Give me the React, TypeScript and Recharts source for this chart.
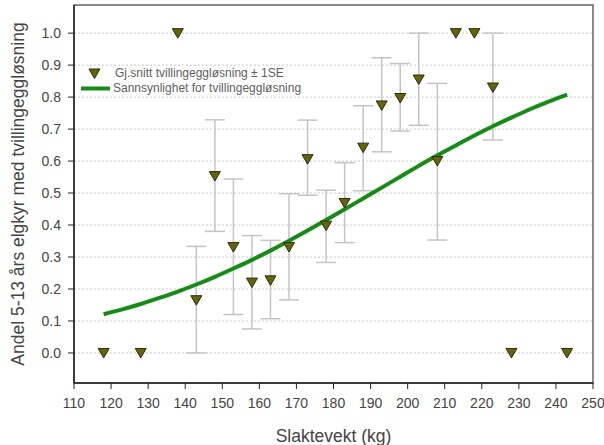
import {
  ComposedChart,
  Scatter,
  Line,
  XAxis,
  YAxis,
  CartesianGrid,
  ErrorBar,
  Legend,
  ReferenceArea,
} from 'recharts'

const FONT = 'Arial, "Liberation Sans", sans-serif'

// observed means per 5 kg weight class, with ±1SE limits
const weights = [118, 128, 138, 143, 148, 153, 158, 163, 168, 173, 178, 183, 188, 193, 198, 203, 208, 213, 218, 223, 228, 243]
const means = [0, 0, 1, 0.165, 0.553, 0.331, 0.22, 0.227, 0.331, 0.606, 0.398, 0.469, 0.642, 0.774, 0.797, 0.855, 0.6, 1, 1, 0.83, 0, 0]
const seLow = [null, null, null, 0, 0.38, 0.12, 0.075, 0.107, 0.166, 0.493, 0.283, 0.345, 0.507, 0.629, 0.694, 0.712, 0.353, null, null, 0.666, null, null]
const seHigh = [null, null, null, 0.333, 0.729, 0.544, 0.367, 0.352, 0.498, 0.728, 0.509, 0.595, 0.773, 0.923, 0.905, 1, 0.843, null, null, 1, null, null]

// fitted probability curve
const curveWeights = [118, 123, 128, 133, 138, 143, 148, 153, 158, 163, 168, 173, 178, 183, 188, 193, 198, 203, 208, 213, 218, 223, 228, 233, 238, 243]
const curveProb = [0.121, 0.136, 0.153, 0.172, 0.192, 0.214, 0.238, 0.264, 0.291, 0.32, 0.351, 0.383, 0.416, 0.449, 0.483, 0.517, 0.551, 0.585, 0.618, 0.649, 0.68, 0.709, 0.736, 0.762, 0.786, 0.808]

const xTicks = [110, 120, 130, 140, 150, 160, 170, 180, 190, 200, 210, 220, 230, 240, 250]
const yTicks = [0, 0.1, 0.2, 0.3, 0.4, 0.5, 0.6, 0.7, 0.8, 0.9, 1.0]

const LEGEND_MEAN = 'Gj.snitt tvillingeggløsning ± 1SE'
const LEGEND_CURVE = 'Sannsynlighet for tvillingeggløsning'

const points = weights.map((x, i) => ({ x, y: means[i] }))
const errPoints = weights
  .map((x, i) => ({ x, y: means[i], lo: seLow[i], hi: seHigh[i] }))
  .filter((d) => d.lo !== null && d.hi !== null)
  .map((d) => ({ x: d.x, y: d.y, err: [d.y - (d.lo as number), (d.hi as number) - d.y] }))
const curve = curveWeights.map((x, i) => ({ x, p: curveProb[i] }))

const MARKER_FILL = '#666408'
const GREEN = '#158c15'

function Triangle(props: any) {
  const { cx, cy } = props
  if (cx == null || cy == null) return <g />
  return (
    <path
      d={`M${cx - 5.5},${cy - 4.5} L${cx + 5.5},${cy - 4.5} L${cx},${cy + 5} Z`}
      fill={MARKER_FILL}
      stroke="#2b2b10"
      strokeWidth={1}
    />
  )
}

function LegendBox() {
  return (
    <div style={{ fontFamily: FONT, fontSize: 12, color: '#606060', lineHeight: '15px' }}>
      <div style={{ display: 'flex', alignItems: 'center' }}>
        <svg width={35} height={15}>
          <path d="M9,3 L20,3 L14.5,12.5 Z" fill={MARKER_FILL} stroke="#2b2b10" strokeWidth={1} />
        </svg>
        <span>{LEGEND_MEAN}</span>
      </div>
      <div style={{ display: 'flex', alignItems: 'center' }}>
        <svg width={33} height={15}>
          <line x1={1} y1={7.5} x2={30} y2={7.5} stroke={GREEN} strokeWidth={4} />
        </svg>
        <span>{LEGEND_CURVE}</span>
      </div>
    </div>
  )
}

export default function App() {
  return (
    <div style={{ position: 'absolute', left: 0, top: 0, background: '#fff' }}>
      <ComposedChart width={604} height={445} margin={{ top: 5, right: 11, bottom: 0, left: 14 }}>
        <ReferenceArea x1={110} x2={250} y1={-0.094} y2={1.088} fill="none" stroke="#666" strokeWidth={1.5} />
        <CartesianGrid vertical={false} stroke="#c8c8c8" strokeDasharray="2 2" />
        <XAxis
          dataKey="x"
          type="number"
          domain={[110, 250]}
          ticks={xTicks}
          allowDataOverflow
          height={62}
          tickSize={6}
          tickMargin={9}
          tick={{ fontSize: 14, fill: '#444', fontFamily: FONT }}
          axisLine={{ stroke: '#222', strokeWidth: 1.5 }}
          tickLine={{ stroke: '#222' }}
          label={{ value: 'Slaktevekt (kg)', position: 'insideBottom', offset: 3, style: { fontSize: 17.5, fill: '#444', fontFamily: FONT } }}
        />
        <YAxis
          type="number"
          domain={[-0.094, 1.088]}
          ticks={yTicks}
          allowDataOverflow
          tickFormatter={(v: number) => v.toFixed(1)}
          width={60}
          tickSize={6}
          tickMargin={7}
          tick={{ fontSize: 14, fill: '#444', fontFamily: FONT }}
          axisLine={{ stroke: '#222', strokeWidth: 1.5 }}
          tickLine={{ stroke: '#222' }}
          label={{
            value: 'Andel 5-13 års elgkyr med tvillingeggløsning',
            angle: -90,
            position: 'insideLeft',
            offset: 4,
            style: { fontSize: 17.5, fill: '#444', fontFamily: FONT, textAnchor: 'middle' },
          }}
        />
        <Legend
          layout="vertical"
          align="center"
          verticalAlign="middle"
          content={() => <LegendBox />}
          wrapperStyle={{ left: 80, top: 66, width: 'auto' }}
        />
        <Scatter data={errPoints} dataKey="y" shape={() => <g />} legendType="none" isAnimationActive={false}>
          <ErrorBar dataKey="err" direction="y" width={10} stroke="#c4c4c4" strokeWidth={1.5} isAnimationActive={false} />
        </Scatter>
        <Line
          data={curve}
          dataKey="p"
          type="monotone"
          stroke={GREEN}
          strokeWidth={4}
          dot={false}
          activeDot={false}
          legendType="none"
          isAnimationActive={false}
        />
        <Scatter data={points} dataKey="y" shape={Triangle} legendType="none" isAnimationActive={false} />
      </ComposedChart>
    </div>
  )
}
